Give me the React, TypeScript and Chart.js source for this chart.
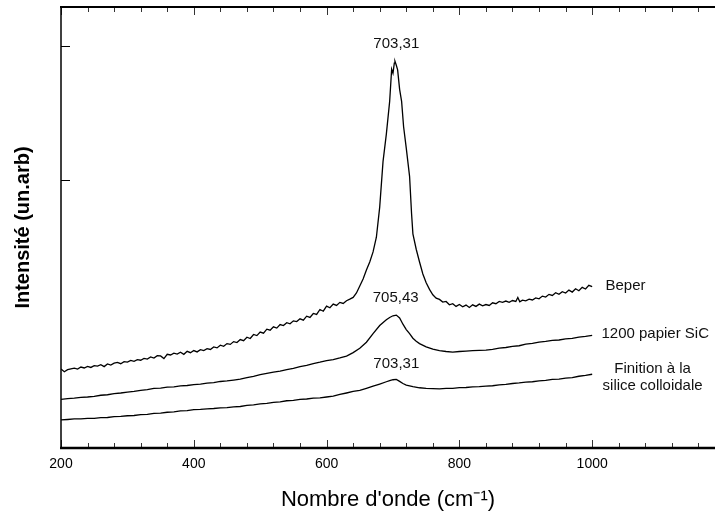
import React, { useEffect, useRef } from "react";
import { Chart, registerables } from "chart.js";

Chart.register(...registerables);

// ---- Data ----
const beperWave = [
  200, 205, 210, 215, 220, 225, 230, 235, 240, 245, 250, 255, 260, 265, 270, 275, 280, 285, 290, 295,
  300, 305, 310, 315, 320, 325, 330, 335, 340, 345, 350, 355, 360, 365, 370, 375, 380, 385, 390, 395,
  400, 405, 410, 415, 420, 425, 430, 435, 440, 445, 450, 455, 460, 465, 470, 475, 480, 485, 490, 495,
  500, 505, 510, 515, 520, 525, 530, 535, 540, 545, 550, 555, 560, 565, 570, 575, 580, 585, 590, 595,
  600, 605, 610, 615, 620, 625, 630, 635, 640, 645, 650, 655, 660, 665, 670, 675, 680, 685, 690, 695,
  698, 700, 702, 703, 705, 707, 710, 713, 716, 720, 725, 728, 730, 735, 740, 745, 750, 755, 760, 765,
  770, 775, 780, 785, 790, 795, 800, 805, 810, 815, 820, 825, 830, 835, 840, 845, 850, 855, 860, 865,
  870, 875, 880, 885, 888, 891, 895, 900, 905, 910, 915, 920, 925, 930, 935, 940, 945, 950, 955, 960,
  965, 970, 975, 980, 985, 990, 995, 1000,
];
const beperIntensity = [
  590, 570, 585, 592, 596, 590, 605, 598, 610, 602, 615, 612, 622, 608, 628, 620, 634, 640, 630, 645,
  642, 655, 648, 660, 656, 670, 664, 680, 672, 690, 688, 668, 700, 695, 708, 702, 716, 700, 722, 712,
  728, 718, 735, 728, 742, 736, 755, 748, 768, 760, 780, 774, 795, 788, 810, 802, 828, 818, 848, 840,
  866, 858, 888, 880, 905, 896, 922, 915, 936, 928, 950, 945, 965, 955, 985, 976, 1005, 998, 1035, 1022,
  1060, 1048, 1075, 1065, 1088, 1080, 1100, 1112, 1125, 1158, 1210, 1262, 1330, 1390, 1465, 1575, 1800, 2140, 2345, 2590,
  2830, 2800, 2875, 2890, 2860, 2825, 2680, 2590, 2400, 2240, 2030, 1750, 1600, 1485, 1390, 1300, 1235, 1185, 1145, 1120,
  1110, 1090, 1095, 1070, 1078, 1058, 1072, 1055, 1068, 1050, 1070, 1058, 1075, 1062, 1072, 1065, 1085, 1078, 1095, 1088,
  1098, 1088, 1102, 1095, 1125, 1092, 1105, 1100, 1112, 1106, 1122, 1115, 1135, 1128, 1148, 1140, 1160, 1148, 1168, 1158,
  1180, 1165, 1190, 1175, 1200, 1188, 1215, 1205,
];

const sicWave = [
  200, 210, 220, 230, 240, 250, 260, 270, 280, 290, 300, 310, 320, 330, 340, 350, 360, 370, 380, 390,
  400, 410, 420, 430, 440, 450, 460, 470, 480, 490, 500, 510, 520, 530, 540, 550, 560, 570, 580, 590,
  600, 610, 620, 630, 640, 650, 660, 670, 680, 690, 695, 700, 705, 710, 715, 720, 725, 730, 735, 740,
  750, 760, 770, 780, 790, 800, 810, 820, 830, 840, 850, 860, 870, 880, 890, 900, 910, 920, 930, 940,
  950, 960, 970, 980, 990, 1000,
];
const sicIntensity = [
  364, 369, 372, 378, 381, 386, 394, 398, 406, 411, 418, 423, 431, 436, 445, 448, 455, 457, 464, 467,
  474, 478, 485, 489, 497, 501, 507, 514, 526, 535, 548, 557, 567, 574, 586, 595, 608, 617, 631, 641,
  653, 661, 673, 687, 713, 745, 790, 854, 915, 958, 975, 988, 993, 972, 925, 885, 854, 820, 798, 780,
  755, 738, 728, 721, 716, 721, 724, 727, 729, 731, 737, 746, 751, 759, 764, 776, 781, 791, 796, 804,
  807, 815, 819, 829, 834, 842,
];

const finWave = [
  200, 210, 220, 230, 240, 250, 260, 270, 280, 290, 300, 310, 320, 330, 340, 350, 360, 370, 380, 390,
  400, 410, 420, 430, 440, 450, 460, 470, 480, 490, 500, 510, 520, 530, 540, 550, 560, 570, 580, 590,
  600, 610, 620, 630, 640, 650, 660, 670, 680, 690, 695, 700, 705, 710, 715, 720, 725, 730, 740, 750,
  760, 770, 780, 790, 800, 810, 820, 830, 840, 850, 860, 870, 880, 890, 900, 910, 920, 930, 940, 950,
  960, 970, 980, 990, 1000,
];
const finIntensity = [
  210, 213, 217, 217, 221, 222, 227, 228, 234, 236, 241, 243, 249, 251, 258, 261, 267, 270, 277, 280,
  286, 288, 293, 295, 300, 301, 307, 310, 318, 322, 329, 333, 341, 345, 353, 356, 363, 366, 373, 375,
  381, 387, 400, 411, 423, 431, 446, 462, 478, 495, 503, 510, 512, 498, 482, 470, 464, 458, 450, 446,
  444, 442, 445, 445, 451, 452, 457, 458, 463, 465, 472, 475, 482, 486, 492, 495, 502, 505, 512, 514,
  522, 526, 536, 542, 551,
];

const xTickLabels = [200, 400, 600, 800, 1000, 1200];
const xMinorStep = 40;
const yTickValues = [2000, 3000];

const peakLabels = [
  { text: "703,31", x: 705, y: 3023 },
  { text: "705,43", x: 704, y: 1121 },
  { text: "703,31", x: 705, y: 631 },
];
const seriesLabels = [
  { lines: ["Beper"], x: 1020, y: 1210, align: "left" },
  { lines: ["1200 papier SiC"], x: 1014, y: 855, align: "left" },
  { lines: ["Finition à la", "silice colloidale"], x: 1091, y: 593, align: "center" },
];

const FONT = "Arial, 'Liberation Sans', Helvetica, sans-serif";

const framePlugin = {
  id: "frameAndLabels",
  afterDatasetsDraw(chart: any) {
    const ctx = chart.ctx;
    const xs = chart.scales.x;
    const ys = chart.scales.y;
    const a = chart.chartArea;
    ctx.save();
    // ticks
    ctx.strokeStyle = "#333";
    ctx.lineWidth = 1;
    const xmin = xs.min, xmax = xs.max;
    for (let v = xTickLabels[0]; v <= xmax; v += xMinorStep) {
      if (v < xmin) continue;
      const px = Math.round(xs.getPixelForValue(v)) + 0.5;
      const major = xTickLabels.includes(v);
      const len = major ? 8 : 5;
      ctx.beginPath();
      ctx.moveTo(px, a.bottom);
      ctx.lineTo(px, a.bottom - len);
      ctx.moveTo(px, a.top);
      ctx.lineTo(px, a.top + len);
      ctx.stroke();
    }
    ctx.strokeStyle = "#000";
    for (const v of yTickValues) {
      const py = Math.round(ys.getPixelForValue(v)) + 0.5;
      ctx.beginPath();
      ctx.moveTo(a.left, py);
      ctx.lineTo(a.left + 9, py);
      ctx.stroke();
    }
    // axis lines
    ctx.strokeStyle = "#000";
    ctx.lineWidth = 1.5;
    ctx.beginPath();
    ctx.moveTo(a.left, a.top);
    ctx.lineTo(a.left, a.bottom);
    ctx.stroke();
    ctx.lineWidth = 2.5;
    ctx.beginPath();
    ctx.moveTo(a.left - 1, a.bottom);
    ctx.lineTo(a.right, a.bottom);
    ctx.stroke();
    ctx.lineWidth = 2;
    ctx.beginPath();
    ctx.moveTo(a.left - 1, a.top);
    ctx.lineTo(a.right, a.top);
    ctx.stroke();

    // text annotations
    ctx.fillStyle = "#111";
    ctx.font = `15px ${FONT}`;
    ctx.textBaseline = "middle";
    ctx.textAlign = "center";
    for (const p of peakLabels) {
      ctx.fillText(p.text, xs.getPixelForValue(p.x), ys.getPixelForValue(p.y));
    }
    for (const s of seriesLabels) {
      ctx.textAlign = s.align as CanvasTextAlign;
      const x = xs.getPixelForValue(s.x);
      const y0 = ys.getPixelForValue(s.y);
      s.lines.forEach((t, i) => ctx.fillText(t, x, y0 + i * 17));
    }
    ctx.restore();
  },
};

export default function App() {
  const ref = useRef<HTMLCanvasElement | null>(null);
  useEffect(() => {
    if (!ref.current) return;
    const mk = (w: number[], v: number[]) => w.map((x, i) => ({ x, y: v[i] }));
    const line = (label: string, data: any[]) => ({
      label,
      data,
      borderColor: "#000",
      borderWidth: 1.3,
      pointRadius: 0,
      tension: 0,
      fill: false,
    });
    const chart = new Chart(ref.current, {
      type: "line",
      data: {
        datasets: [
          line("Beper", mk(beperWave, beperIntensity)),
          line("1200 papier SiC", mk(sicWave, sicIntensity)),
          line("Finition à la silice colloidale", mk(finWave, finIntensity)),
        ],
      },
      options: {
        responsive: false,
        animation: false,
        devicePixelRatio: 1,
        layout: { padding: { top: 7, left: 0, right: 0, bottom: 0 } },
        plugins: { legend: { display: false }, tooltip: { enabled: false } },
        scales: {
          x: {
            type: "linear",
            position: "bottom",
            min: 200,
            max: 1185,
            grid: { display: false, drawTicks: false },
            border: { display: false },
            afterBuildTicks: (s: any) => {
              s.ticks = xTickLabels.filter((v) => v <= 1185).map((v) => ({ value: v }));
            },
            afterFit: (s: any) => {
              s.height = 66;
            },
            ticks: {
              color: "#000",
              font: { family: FONT, size: 14 },
              padding: 8,
              maxRotation: 0,
              autoSkip: false,
              callback: (v: any) => String(v),
            },
            title: {
              display: true,
              text: "Nombre d'onde (cm⁻¹)",
              color: "#000",
              font: { family: FONT, size: 22 },
              padding: { top: 0, bottom: 1 },
            },
          },
          y: {
            type: "linear",
            min: 0,
            max: 3295,
            grid: { display: false, drawTicks: false },
            border: { display: false },
            afterBuildTicks: (s: any) => {
              s.ticks = yTickValues.map((v) => ({ value: v }));
            },
            afterFit: (s: any) => {
              s.width = 61;
            },
            ticks: { display: false },
            title: {
              display: true,
              text: "Intensité (un.arb)",
              color: "#000",
              font: { family: FONT, size: 20, weight: "bold" },
              padding: { top: 11, bottom: 0 },
            },
          },
        },
      },
      plugins: [framePlugin],
    });
    return () => chart.destroy();
  }, []);
  return (
    <div style={{ position: "fixed", left: 0, top: 0, width: 715, height: 514, background: "#fff" }}>
      <canvas ref={ref} width={715} height={514} style={{ display: "block" }} />
    </div>
  );
}
